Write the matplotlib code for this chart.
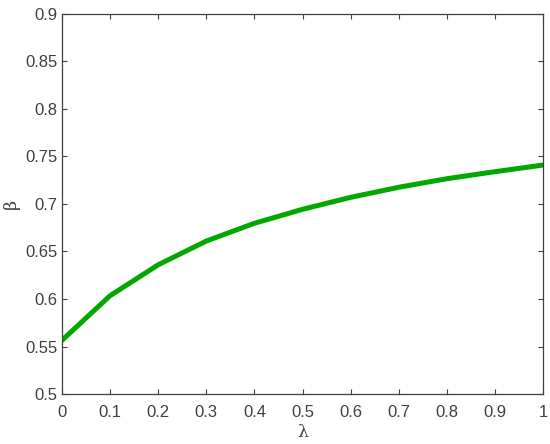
import matplotlib
matplotlib.use("Agg")
import matplotlib.pyplot as plt

# valeurs
lam = [0.0, 0.1, 0.2, 0.3, 0.4, 0.5, 0.6, 0.7, 0.8, 0.9, 1.0]
beta = [0.5565, 0.6035, 0.636, 0.661, 0.6797, 0.6944, 0.707, 0.7176, 0.7266, 0.734, 0.741]

xticks = [0, 0.1, 0.2, 0.3, 0.4, 0.5, 0.6, 0.7, 0.8, 0.9, 1]
xticklabels = ["0", "0.1", "0.2", "0.3", "0.4", "0.5", "0.6", "0.7", "0.8", "0.9", "1"]
yticks = [0.5, 0.55, 0.6, 0.65, 0.7, 0.75, 0.8, 0.85, 0.9]
yticklabels = ["0.5", "0.55", "0.6", "0.65", "0.7", "0.75", "0.8", "0.85", "0.9"]

plt.rcParams["font.family"] = ["Liberation Sans", "DejaVu Sans"]
axcol = "#404040"

fig = plt.figure(figsize=(5.5, 4.44), dpi=100)
ax = fig.add_axes([0.1127, 0.1126, 0.8746, 0.8559])
ax.plot(lam, beta, color="#00a800", linewidth=3.6, solid_joinstyle="round")

ax.set_xlim(0, 1)
ax.set_ylim(0.5, 0.9)
ax.set_xticks(xticks)
ax.set_xticklabels(xticklabels)
ax.set_yticks(yticks)
ax.set_yticklabels(yticklabels)
ax.tick_params(direction="in", top=True, right=True, length=3.5, width=0.8,
               colors=axcol, labelsize=12, labelcolor=axcol, pad=3)
ax.tick_params(axis="x", pad=8)
for s in ax.spines.values():
    s.set_color(axcol)
    s.set_linewidth(0.9)

ax.set_xlabel("λ", fontsize=12.5, color=axcol, family="DejaVu Serif", labelpad=3)
ax.set_ylabel("β", fontsize=12.5, color=axcol, family="DejaVu Serif", labelpad=4)

fig.savefig("out.png", dpi=100)
